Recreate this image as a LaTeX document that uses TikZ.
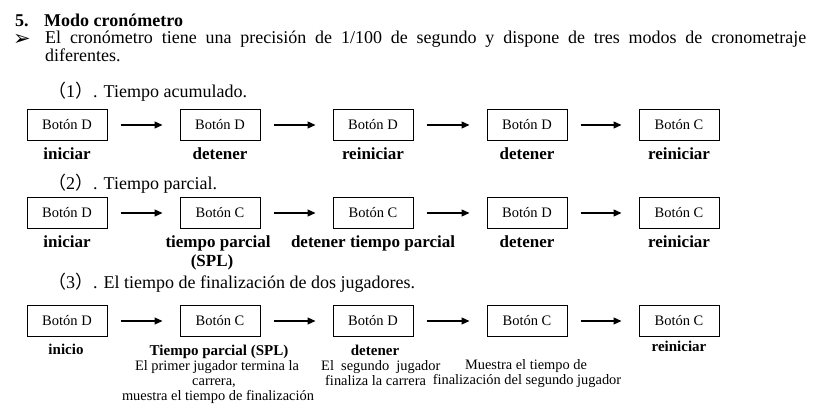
\documentclass[tikz,border=0pt]{standalone}
\usepackage{fontspec}
\setmainfont{Liberation Serif}
\newfontfamily\cjk{Noto Sans CJK SC}
\newfontfamily\dvs{DejaVu Sans}
\usetikzlibrary{arrows.meta}
\begin{document}
\begin{tikzpicture}[x=1pt,y=-1pt,
  btn/.style={draw, line width=1pt, minimum width=80pt, minimum height=31pt, inner sep=0pt,
    font=\fontsize{14.5}{16}\selectfont},
  lbl/.style={anchor=base, inner sep=0pt, font=\bfseries\fontsize{17}{19}\selectfont},
  lblsm/.style={anchor=base, inner sep=0pt, font=\bfseries\fontsize{15}{17}\selectfont},
  desc/.style={anchor=base, inner sep=0pt, font=\fontsize{14.4}{16}\selectfont},
  txt/.style={anchor=base west, inner sep=0pt, font=\fontsize{18}{21}\selectfont},
  arr/.style={-{Triangle[length=8pt,width=7pt]}, line width=1.2pt, shorten <=13pt, shorten >=17pt}]
\useasboundingbox (0,0) rectangle (814,411);
% header
\node[txt, font=\bfseries\fontsize{18}{21}\selectfont] (h5) at (15,27) {5.};
\node[txt, font=\bfseries\fontsize{18}{21}\selectfont] (ht) at (44,27) {Modo cronómetro};
\node[txt, font=\dvs\fontsize{21}{23}\selectfont] (bul) at (13,46) {➢};
\node[txt] (l1) at (45,44) {\hbox to 761pt{El cronómetro tiene una precisión de 1/100 de segundo y dispone de tres modos de cronometraje}};
\node[txt] (l2) at (45,62) {diferentes.};
\node[txt] (s1) at (48,98) {{\cjk （}1{\cjk ）}. Tiempo acumulado.};
\node[txt] (s2) at (48,190) {{\cjk （}2{\cjk ）}. Tiempo parcial.};
\node[txt] (s3) at (48,289) {{\cjk （}3{\cjk ）}. El tiempo de finalización de dos jugadores.};
% row 1
\node[btn] (a1) at (67,125) {Botón D};
\node[btn] (a2) at (220,125) {Botón D};
\node[btn] (a3) at (373,125) {Botón D};
\node[btn] (a4) at (527,125) {Botón D};
\node[btn] (a5) at (679,125) {Botón C};
\draw[arr] (a1) -- (a2);
\draw[arr] (a2) -- (a3);
\draw[arr] (a3) -- (a4);
\draw[arr] (a4) -- (a5);
\node[lbl] (a1l) at (67,160) {iniciar};
\node[lbl] (a2l) at (220,160) {detener};
\node[lbl] (a3l) at (373,160) {reiniciar};
\node[lbl] (a4l) at (527,160) {detener};
\node[lbl] (a5l) at (679,160) {reiniciar};
% row 2
\node[btn] (b1) at (67,213) {Botón D};
\node[btn] (b2) at (220,213) {Botón C};
\node[btn] (b3) at (373,213) {Botón C};
\node[btn] (b4) at (527,213) {Botón D};
\node[btn] (b5) at (679,213) {Botón C};
\draw[arr] (b1) -- (b2);
\draw[arr] (b2) -- (b3);
\draw[arr] (b3) -- (b4);
\draw[arr] (b4) -- (b5);
\node[lbl] (b1l) at (67,248) {iniciar};
\node[lbl] (b2l) at (218,248) {tiempo parcial};
\node[lbl] (b2m) at (212,267) {(SPL)};
\node[lbl] (b3l) at (373,248) {detener tiempo parcial};
\node[lbl] (b4l) at (527,248) {detener};
\node[lbl] (b5l) at (679,248) {reiniciar};
% row 3
\node[btn] (c1) at (67,321) {Botón D};
\node[btn] (c2) at (220,321) {Botón C};
\node[btn] (c3) at (373,321) {Botón D};
\node[btn] (c4) at (527,321) {Botón C};
\node[btn] (c5) at (679,321) {Botón C};
\draw[arr] (c1) -- (c2);
\draw[arr] (c2) -- (c3);
\draw[arr] (c3) -- (c4);
\draw[arr] (c4) -- (c5);
\node[lblsm] (c1l) at (66,355) {inicio};
\node[lblsm] (c2l) at (219,356) {Tiempo parcial (SPL)};
\node[desc] (c2a) at (217,371) {El primer jugador termina la};
\node[desc] (c2b) at (214,386) {carrera,};
\node[desc] (c2c) at (218,401) {muestra el tiempo de finalización};
\node[lblsm] (c3l) at (375,356) {detener};
\node[desc, anchor=base west] (c3a) at (321,371) {El\ \ segundo\ \ jugador};
\node[desc, anchor=base west] (c3b) at (325,386) {finaliza la carrera};
\node[desc] (c4a) at (526,370) {Muestra el tiempo de};
\node[desc] (c4b) at (527,385) {finalización del segundo jugador};
\node[lblsm] (c5l) at (679,352) {reiniciar};
\end{tikzpicture}
\end{document}
